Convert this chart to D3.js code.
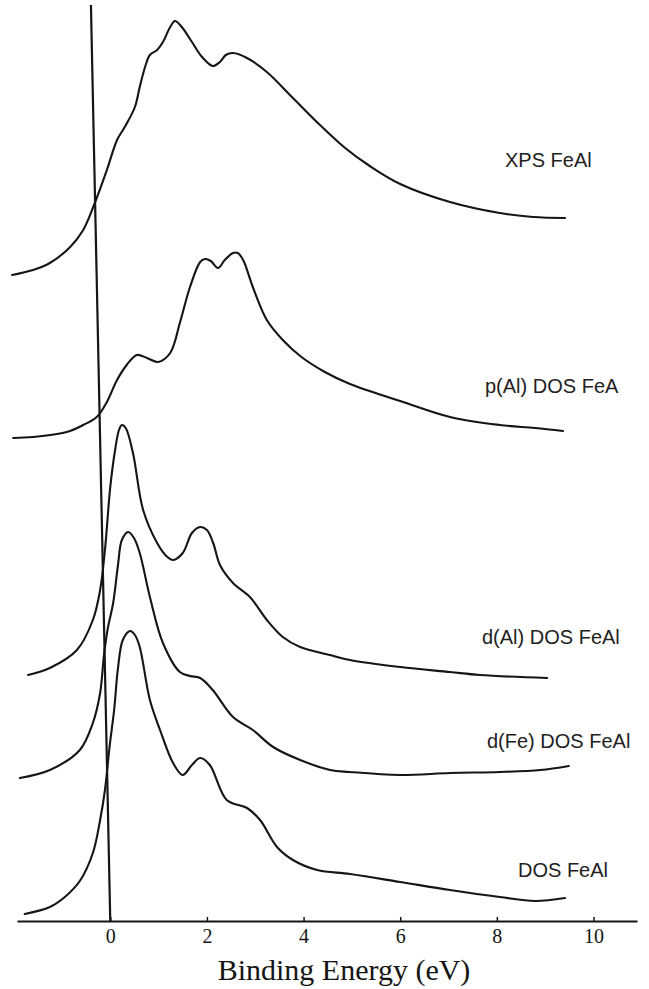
<!DOCTYPE html>
<html>
<head>
<meta charset="utf-8">
<script src="https://cdn.jsdelivr.net/npm/d3@7"></script>
<style>
  html, body { margin: 0; padding: 0; background: #fff; }
  svg { display: block; }
</style>
</head>
<body>
<svg id="chart" width="649" height="989"></svg>
<script>
// Spectra of FeAl: measured XPS valence band and calculated (partial) densities of states.
// Each spectrum: [binding energy (eV), intensity above its own baseline (arb. units)].
const spectrumNames = ["XPS FeAl", "p(Al) DOS FeA", "d(Al) DOS FeAl", "d(Fe) DOS FeAl", "DOS FeAl"];
const spectrumOffsets = [64, 48, 24, 14, 0];

const xpsFeAl = [
  [-2.03, 0.6], [-1.60, 1.1], [-1.25, 1.8], [-0.83, 3.4], [-0.56, 5.1], [-0.32, 7.8],
  [-0.07, 11.1], [0.14, 14.1], [0.30, 15.4], [0.51, 17.4], [0.61, 19.4], [0.72, 21.4],
  [0.82, 22.6], [0.97, 23.1], [1.09, 23.9], [1.24, 25.4], [1.34, 26.0], [1.48, 25.4],
  [1.69, 23.9], [1.90, 22.4], [2.12, 21.5], [2.27, 21.9], [2.39, 22.6], [2.54, 22.8],
  [2.83, 22.3], [3.24, 20.9], [3.78, 18.3], [4.34, 15.6], [4.86, 13.3], [5.37, 11.5],
  [6.00, 9.7], [7.03, 7.9], [8.06, 6.8], [8.75, 6.4], [9.41, 6.3]
];

const pAlDos = [
  [-2.01, 0.3], [-1.60, 0.4], [-0.90, 0.9], [-0.56, 1.6], [-0.28, 2.4], [-0.07, 3.9],
  [0.14, 6.1], [0.34, 7.6], [0.55, 8.6], [0.76, 8.3], [0.99, 7.9], [1.24, 8.8],
  [1.44, 11.8], [1.65, 15.4], [1.86, 17.9], [1.96, 18.2], [2.08, 18.0], [2.23, 17.3],
  [2.37, 18.1], [2.54, 18.8], [2.64, 18.8], [2.75, 18.1], [2.95, 15.4], [3.24, 12.1],
  [3.57, 10.1], [3.93, 8.5], [4.44, 6.9], [4.96, 5.7], [6.00, 4.0], [7.03, 2.4],
  [8.06, 1.6], [8.79, 1.3], [9.37, 1.0]
];

const dAlDos = [
  [-1.70, 0.6], [-1.25, 1.3], [-0.69, 3.1], [-0.36, 6.1], [-0.21, 9.1], [-0.11, 13.1],
  [0.00, 19.4], [0.10, 23.1], [0.18, 25.1], [0.24, 25.6], [0.32, 25.3], [0.47, 22.8],
  [0.68, 17.1], [0.97, 13.8], [1.16, 12.5], [1.30, 12.1], [1.50, 12.8], [1.69, 14.8],
  [1.86, 15.4], [2.00, 15.1], [2.13, 13.8], [2.27, 11.6], [2.54, 9.8], [2.89, 8.4],
  [3.24, 6.1], [3.57, 4.4], [3.93, 3.4], [4.55, 2.6], [4.96, 2.1], [6.00, 1.4],
  [7.03, 0.9], [7.65, 0.6], [9.04, 0.3]
];

const dFeDos = [
  [-1.87, 0.3], [-1.25, 1.1], [-0.63, 3.1], [-0.36, 5.8], [-0.21, 8.8], [-0.13, 12.6],
  [-0.05, 15.3], [0.06, 17.8], [0.16, 21.6], [0.24, 24.1], [0.37, 24.9], [0.49, 24.3],
  [0.61, 22.8], [0.82, 18.4], [1.09, 13.8], [1.44, 10.9], [1.65, 10.5], [1.86, 10.3],
  [2.12, 9.1], [2.54, 6.4], [2.95, 5.1], [3.37, 3.4], [3.93, 2.1], [4.55, 1.1],
  [4.96, 0.9], [6.00, 0.6], [7.03, 0.8], [8.06, 0.9], [8.90, 1.1], [9.49, 1.5]
];

const totalDos = [
  [-1.77, 0.7], [-1.25, 1.4], [-0.94, 2.4], [-0.63, 4.0], [-0.36, 6.8], [-0.21, 10.1],
  [-0.11, 13.1], [-0.01, 17.6], [0.08, 21.1], [0.16, 25.3], [0.26, 28.1], [0.41, 29.0],
  [0.51, 28.6], [0.61, 27.4], [0.82, 22.1], [1.03, 19.1], [1.30, 15.8], [1.50, 14.6],
  [1.69, 15.6], [1.86, 16.3], [2.06, 15.6], [2.41, 12.1], [2.83, 11.3], [3.10, 10.1],
  [3.45, 7.4], [3.78, 6.1], [4.28, 5.1], [4.96, 4.7], [6.00, 3.9], [7.03, 3.1],
  [8.06, 2.4], [8.79, 2.0], [9.41, 2.3]
];

const spectra = [xpsFeAl, pAlDos, dAlDos, dFeDos, totalDos];

// Fermi level marker, drawn from the axis up to the top of the plot
const fermiLine = [[0, 0], [-0.40, 91.6]];

const tickValues = [0, 2, 4, 6, 8, 10];
const axisTitle = "Binding Energy (eV)";

// ---- layout ----
const svg = d3.select("#chart");
const W = 649, H = 989;
svg.append("rect").attr("width", W).attr("height", H).attr("fill", "#fff");

const x = d3.scaleLinear().domain([-1.93, 10.9]).range([17, 637]);
const y = d3.scaleLinear().domain([0, 92]).range([921, 1]);

const ink = "#151515";

const line = d3.line()
  .x(d => x(d[0]))
  .y(d => y(d[1]))
  .curve(d3.curveCatmullRom.alpha(0.5));

// spectra, each lifted by its offset
spectra.forEach((s, i) => {
  const off = spectrumOffsets[i];
  svg.append("path")
    .datum(s.map(p => [p[0], p[1] + off]))
    .attr("d", line)
    .attr("fill", "none")
    .attr("stroke", ink)
    .attr("stroke-width", 2.1)
    .attr("stroke-linejoin", "round")
    .attr("stroke-linecap", "round");
});

// Fermi level line
svg.append("path")
  .datum(fermiLine)
  .attr("d", d3.line().x(d => x(d[0])).y(d => y(d[1])))
  .attr("fill", "none")
  .attr("stroke", ink)
  .attr("stroke-width", 2.2);

// bottom axis with short upward ticks
const axis = d3.axisBottom(x)
  .tickValues(tickValues)
  .tickFormat(d3.format("d"))
  .tickSizeInner(-4)
  .tickSizeOuter(0)
  .tickPadding(8);

const gx = svg.append("g")
  .attr("transform", `translate(0,${y(0)})`)
  .call(axis);

gx.select(".domain").attr("stroke", ink).attr("stroke-width", 2);
gx.selectAll(".tick line").attr("stroke", ink).attr("stroke-width", 1.5);
gx.selectAll(".tick text")
  .attr("fill", ink)
  .attr("font-family", "'Liberation Serif', 'Times New Roman', serif")
  .attr("font-size", 20);

svg.append("text")
  .attr("x", (x(-1.93) + x(10.9)) / 2 + 17)
  .attr("y", y(0) + 59)
  .attr("text-anchor", "middle")
  .attr("font-family", "'Liberation Serif', 'Times New Roman', serif")
  .attr("font-size", 30)
  .attr("fill", ink)
  .text(axisTitle);

// spectrum labels, set to the right of each curve
const labelPos = [[505, 167], [485, 393], [482, 644], [487, 748], [518, 877]];
spectrumNames.forEach((name, i) => {
  svg.append("text")
    .attr("x", labelPos[i][0])
    .attr("y", labelPos[i][1])
    .attr("font-family", "'Liberation Sans', Arial, sans-serif")
    .attr("font-size", 20)
    .attr("fill", "#222")
    .text(name);
});
</script>
</body>
</html>
